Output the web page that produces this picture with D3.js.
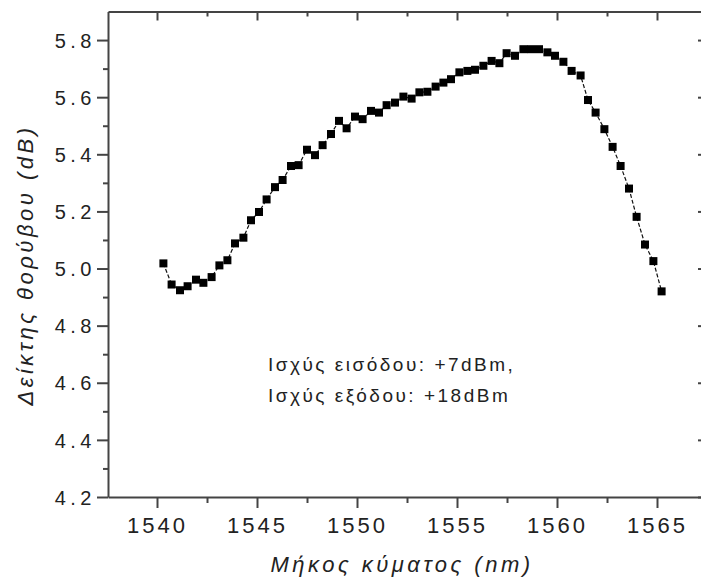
<!DOCTYPE html>
<html>
<head>
	<meta charset="utf-8">
	<title>D3</title>
	<script src="https://d3js.org/d3.v7.min.js"></script>
	<style>
		html, body {
			margin: 0;
			background: white;
		}
		text {
			font-family: "Liberation Sans", Arial, sans-serif;
			fill: #222;
		}
	</style>
</head>
<body>
	<svg id="svg"></svg>
	<script>
		// wavelength (nm) vs noise figure (dB)
		const wavelength = [
			1540.32, 1540.73, 1541.15, 1541.53, 1541.95, 1542.32, 1542.73, 1543.12, 1543.52, 1543.90,
			1544.32, 1544.70, 1545.10, 1545.48, 1545.90, 1546.28, 1546.70, 1547.08, 1547.50, 1547.90,
			1548.28, 1548.70, 1549.10, 1549.48, 1549.90, 1550.28, 1550.70, 1551.10, 1551.48, 1551.90,
			1552.32, 1552.73, 1553.12, 1553.52, 1553.93, 1554.32, 1554.70, 1555.12, 1555.52, 1555.90,
			1556.32, 1556.73, 1557.12, 1557.48, 1557.90, 1558.32, 1558.70, 1559.10, 1559.52, 1559.90,
			1560.32, 1560.73, 1561.18, 1561.55, 1561.93, 1562.37, 1562.78, 1563.18, 1563.60, 1563.98,
			1564.40, 1564.82, 1565.23
		];
		const noiseFigure = [
			5.018, 4.944, 4.924, 4.938, 4.961, 4.950, 4.970, 5.011, 5.029, 5.088,
			5.108, 5.169, 5.198, 5.242, 5.285, 5.310, 5.359, 5.362, 5.416, 5.397,
			5.432, 5.471, 5.517, 5.491, 5.532, 5.523, 5.552, 5.546, 5.572, 5.581,
			5.602, 5.595, 5.617, 5.619, 5.637, 5.651, 5.663, 5.687, 5.692, 5.696,
			5.710, 5.727, 5.719, 5.754, 5.745, 5.768, 5.768, 5.768, 5.757, 5.745,
			5.724, 5.692, 5.676, 5.590, 5.546, 5.488, 5.426, 5.359, 5.280, 5.181,
			5.084, 5.026, 4.920
		];

		const xTicks = [1540, 1545, 1550, 1555, 1560, 1565];
		const xMinorTicks = [1542.5, 1547.5, 1552.5, 1557.5, 1562.5];
		const yTicks = [4.2, 4.4, 4.6, 4.8, 5.0, 5.2, 5.4, 5.6, 5.8];
		const yMinorTicks = [4.3, 4.5, 4.7, 4.9, 5.1, 5.3, 5.5, 5.7];

		const xTitle = "Μήκος κύματος (nm)";
		const yTitle = "Δείκτης θορύβου (dB)";
		const noteLines = ["Ισχύς εισόδου: +7dBm,", "Ισχύς εξόδου: +18dBm"];

		const width = 701;
		const height = 585;
		const axisColor = "#444";

		const svg = d3.select("#svg")
		.attr("width", width)
		.attr("height", height);

		const scaleX = d3.scaleLinear()
		.domain([1537.55, 1567.5])
		.range([108, 707]);

		const scaleY = d3.scaleLinear()
		.domain([4.2, 5.9])
		.range([497, 11.5]);

		const x0 = scaleX.range()[0], x1 = scaleX.range()[1];
		const y0 = scaleY.range()[0], y1 = scaleY.range()[1];

		function styleAxis(g) {
			g.selectAll("path, line")
			.attr("stroke", axisColor)
			.attr("stroke-width", 2);
		}

		// bottom axis with labels
		const bottom = svg.append("g")
		.attr("transform", `translate(0, ${y0})`)
		.call(d3.axisBottom(scaleX).tickValues(xTicks).tickSize(11).tickSizeOuter(0).tickFormat(d3.format("d")))
		.call(styleAxis);
		bottom.selectAll("text")
		.attr("y", 36)
		.attr("dy", 0)
		.attr("fill", "#222")
		.style("font-size", "22px")
		.style("letter-spacing", "3px");

		svg.append("g")
		.attr("transform", `translate(0, ${y0})`)
		.call(d3.axisBottom(scaleX).tickValues(xMinorTicks).tickSize(6).tickSizeOuter(0).tickFormat(""))
		.call(styleAxis)
		.select(".domain").remove();

		// top axis, ticks pointing inward
		svg.append("g")
		.attr("transform", `translate(0, ${y1})`)
		.call(d3.axisTop(scaleX).tickValues(xTicks).tickSize(-9).tickSizeOuter(0).tickFormat(""))
		.call(styleAxis);
		svg.append("g")
		.attr("transform", `translate(0, ${y1})`)
		.call(d3.axisTop(scaleX).tickValues(xMinorTicks).tickSize(-5).tickSizeOuter(0).tickFormat(""))
		.call(styleAxis)
		.select(".domain").remove();

		// left axis with labels
		const left = svg.append("g")
		.attr("transform", `translate(${x0}, 0)`)
		.call(d3.axisLeft(scaleY).tickValues(yTicks).tickSize(11).tickSizeOuter(0).tickFormat(d3.format(".1f")))
		.call(styleAxis);
		left.selectAll("text")
		.attr("x", -12)
		.attr("dy", "0.36em")
		.attr("fill", "#222")
		.style("font-size", "20px")
		.style("letter-spacing", "4.5px");

		svg.append("g")
		.attr("transform", `translate(${x0}, 0)`)
		.call(d3.axisLeft(scaleY).tickValues(yMinorTicks).tickSize(5).tickSizeOuter(0).tickFormat(""))
		.call(styleAxis)
		.select(".domain").remove();

		// right axis, ticks pointing inward
		svg.append("g")
		.attr("transform", `translate(${x1}, 0)`)
		.call(d3.axisRight(scaleY).tickValues(yTicks).tickSize(-9).tickSizeOuter(0).tickFormat(""))
		.call(styleAxis);
		svg.append("g")
		.attr("transform", `translate(${x1}, 0)`)
		.call(d3.axisRight(scaleY).tickValues(yMinorTicks).tickSize(-5).tickSizeOuter(0).tickFormat(""))
		.call(styleAxis)
		.select(".domain").remove();

		// data
		const data = wavelength.map((w, i) => ({ w: w, nf: noiseFigure[i] }));

		const line = d3.line()
		.x(d => scaleX(d.w))
		.y(d => scaleY(d.nf));

		svg.append("path")
		.datum(data)
		.attr("fill", "none")
		.attr("stroke", "#111")
		.attr("stroke-width", 1.2)
		.attr("stroke-dasharray", "4,2")
		.attr("d", line);

		const size = 8;
		svg.append("g")
		.selectAll("rect")
		.data(data)
		.enter()
		.append("rect")
		.attr("x", d => scaleX(d.w) - size / 2)
		.attr("y", d => scaleY(d.nf) - size / 2)
		.attr("width", size)
		.attr("height", size)
		.attr("fill", "#000");

		// titles
		svg.append("text")
		.attr("x", 402)
		.attr("y", 572)
		.attr("text-anchor", "middle")
		.style("font-size", "22px")
		.style("font-style", "italic")
		.style("letter-spacing", "3.5px")
		.text(xTitle);

		svg.append("text")
		.attr("transform", "translate(33, 265) rotate(-90)")
		.attr("text-anchor", "middle")
		.style("font-size", "22px")
		.style("font-style", "italic")
		.style("letter-spacing", "3.5px")
		.text(yTitle);

		// annotation
		svg.append("g")
		.selectAll("text")
		.data(noteLines)
		.enter()
		.append("text")
		.attr("x", 268)
		.attr("y", (d, i) => 371 + i * 31)
		.style("font-size", "19px")
		.style("letter-spacing", "2.5px")
		.text(d => d);
	</script>
</body>
</html>
